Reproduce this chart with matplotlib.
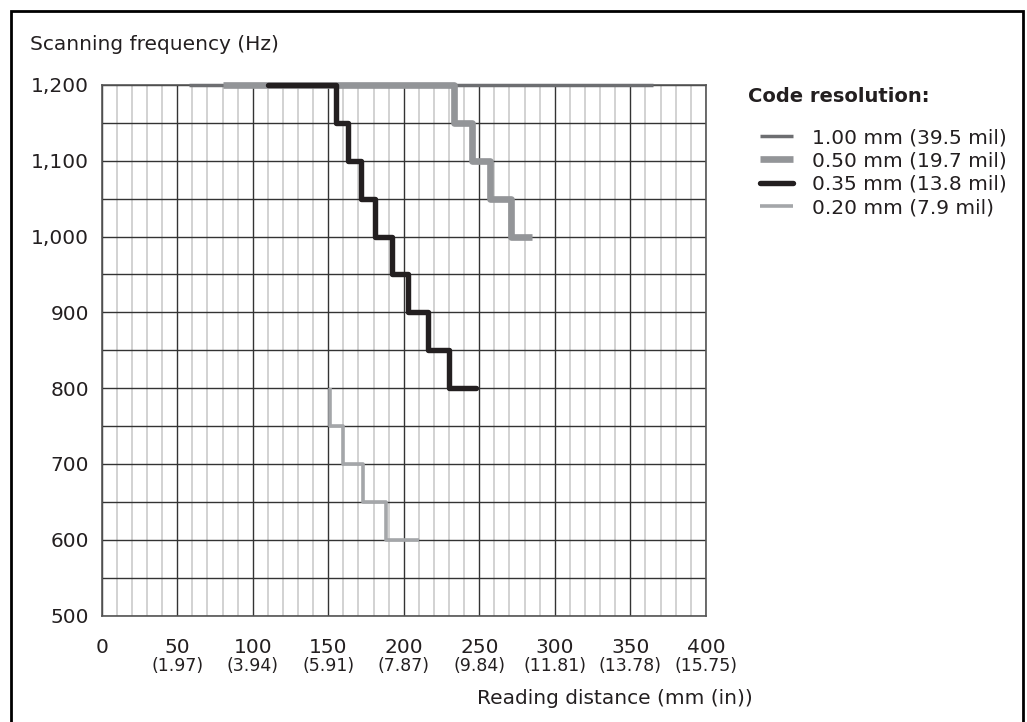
import matplotlib
matplotlib.use('Agg')
import matplotlib.pyplot as plt
from matplotlib.patches import Rectangle
from matplotlib.ticker import MultipleLocator

plt.rcParams['font.family'] = ['DejaVu Sans']

# step points (used with drawstyle steps-post)
res_100_x = [58, 365]
res_100_y = [1200, 1200]
res_050_x = [80, 233, 245, 257, 271, 285]
res_050_y = [1200, 1150, 1100, 1050, 1000, 1000]
res_035_x = [110, 155, 163, 172, 181, 192, 203, 216, 230, 248]
res_035_y = [1200, 1150, 1100, 1050, 1000, 950, 900, 850, 800, 800]
res_020_x = [151, 151, 160, 173, 188, 210]
res_020_y = [800, 750, 700, 650, 600, 600]

labels = ['1.00 mm (39.5 mil)', '0.50 mm (19.7 mil)',
          '0.35 mm (13.8 mil)', '0.20 mm (7.9 mil)']

mm_ticks = [0, 50, 100, 150, 200, 250, 300, 350, 400]
inch_labels = ['', '(1.97)', '(3.94)', '(5.91)', '(7.87)', '(9.84)',
               '(11.81)', '(13.78)', '(15.75)']
freq_ticks = [500, 600, 700, 800, 900, 1000, 1100, 1200]

fig = plt.figure(figsize=(10.27, 7.22), dpi=100)
ax = fig.add_axes([0.099, 0.1474, 0.5883, 0.7349])

# grid
ax.set_xlim(0, 400)
ax.set_ylim(500, 1200)
ax.xaxis.set_minor_locator(MultipleLocator(10))
ax.yaxis.set_minor_locator(MultipleLocator(50))
ax.grid(which='minor', axis='x', color='#c6c6c6', linewidth=1.1)
ax.grid(which='major', axis='x', color='#333333', linewidth=1.0)
ax.grid(which='both', axis='y', color='#333333', linewidth=1.0)
ax.set_axisbelow(True)
for s in ax.spines.values():
    s.set_color('#555555')
    s.set_linewidth(1.2)

ax.plot(res_100_x, res_100_y, drawstyle='steps-post', color='#6d6e71',
        lw=2.5, solid_capstyle='butt', clip_on=False, label=labels[0], zorder=3)
ax.plot(res_050_x, res_050_y, drawstyle='steps-post', color='#939598',
        lw=4.8, solid_capstyle='butt', clip_on=False, label=labels[1], zorder=4)
ax.plot(res_035_x, res_035_y, drawstyle='steps-post', color='#231f20',
        lw=3.9, solid_capstyle='round', clip_on=False, label=labels[2], zorder=5)
ax.plot(res_020_x, res_020_y, drawstyle='steps-post', color='#a4a6a9',
        lw=2.6, solid_capstyle='butt', clip_on=False, label=labels[3], zorder=3)

ax.set_yticks(freq_ticks)
ax.set_yticklabels([f'{v:,}' for v in freq_ticks])
ax.set_xticks(mm_ticks)
ax.set_xticklabels([str(v) for v in mm_ticks])
ax.tick_params(which='both', length=0)
ax.tick_params(axis='y', labelsize=14.5, pad=9, colors='#231f20')
ax.tick_params(axis='x', labelsize=14.5, pad=16, colors='#231f20')

for x, lab in zip(mm_ticks, inch_labels):
    ax.text(x, -0.095, lab, transform=ax.get_xaxis_transform(),
            ha='center', va='center', fontsize=12.5, color='#231f20')

fig.text(0.029, 0.938, 'Scanning frequency (Hz)', fontsize=14.5,
         ha='left', va='center', color='#231f20')
fig.text(0.733, 0.033, 'Reading distance (mm (in))', fontsize=14.5,
         ha='right', va='center', color='#231f20')

fig.text(748 / 1027, 1 - 97 / 722, 'Code resolution:', fontsize=14,
         fontweight='bold', ha='left', va='center', color='#231f20')
leg = ax.legend(loc='upper left', bbox_to_anchor=(760 / 1027, 1 - 128 / 722),
                bbox_transform=fig.transFigure, frameon=False, fontsize=14.5,
                handlelength=1.65, handletextpad=0.95, labelspacing=0.22,
                borderpad=0, borderaxespad=0)
for t in leg.get_texts():
    t.set_color('#231f20')

# outer frame
fig.patches.append(Rectangle((11 / 1027, -0.05), 1012 / 1027, 1.05 - 11 / 722,
                             transform=fig.transFigure, fill=False,
                             edgecolor='black', linewidth=2.0))

fig.savefig('out.png', dpi=100)
